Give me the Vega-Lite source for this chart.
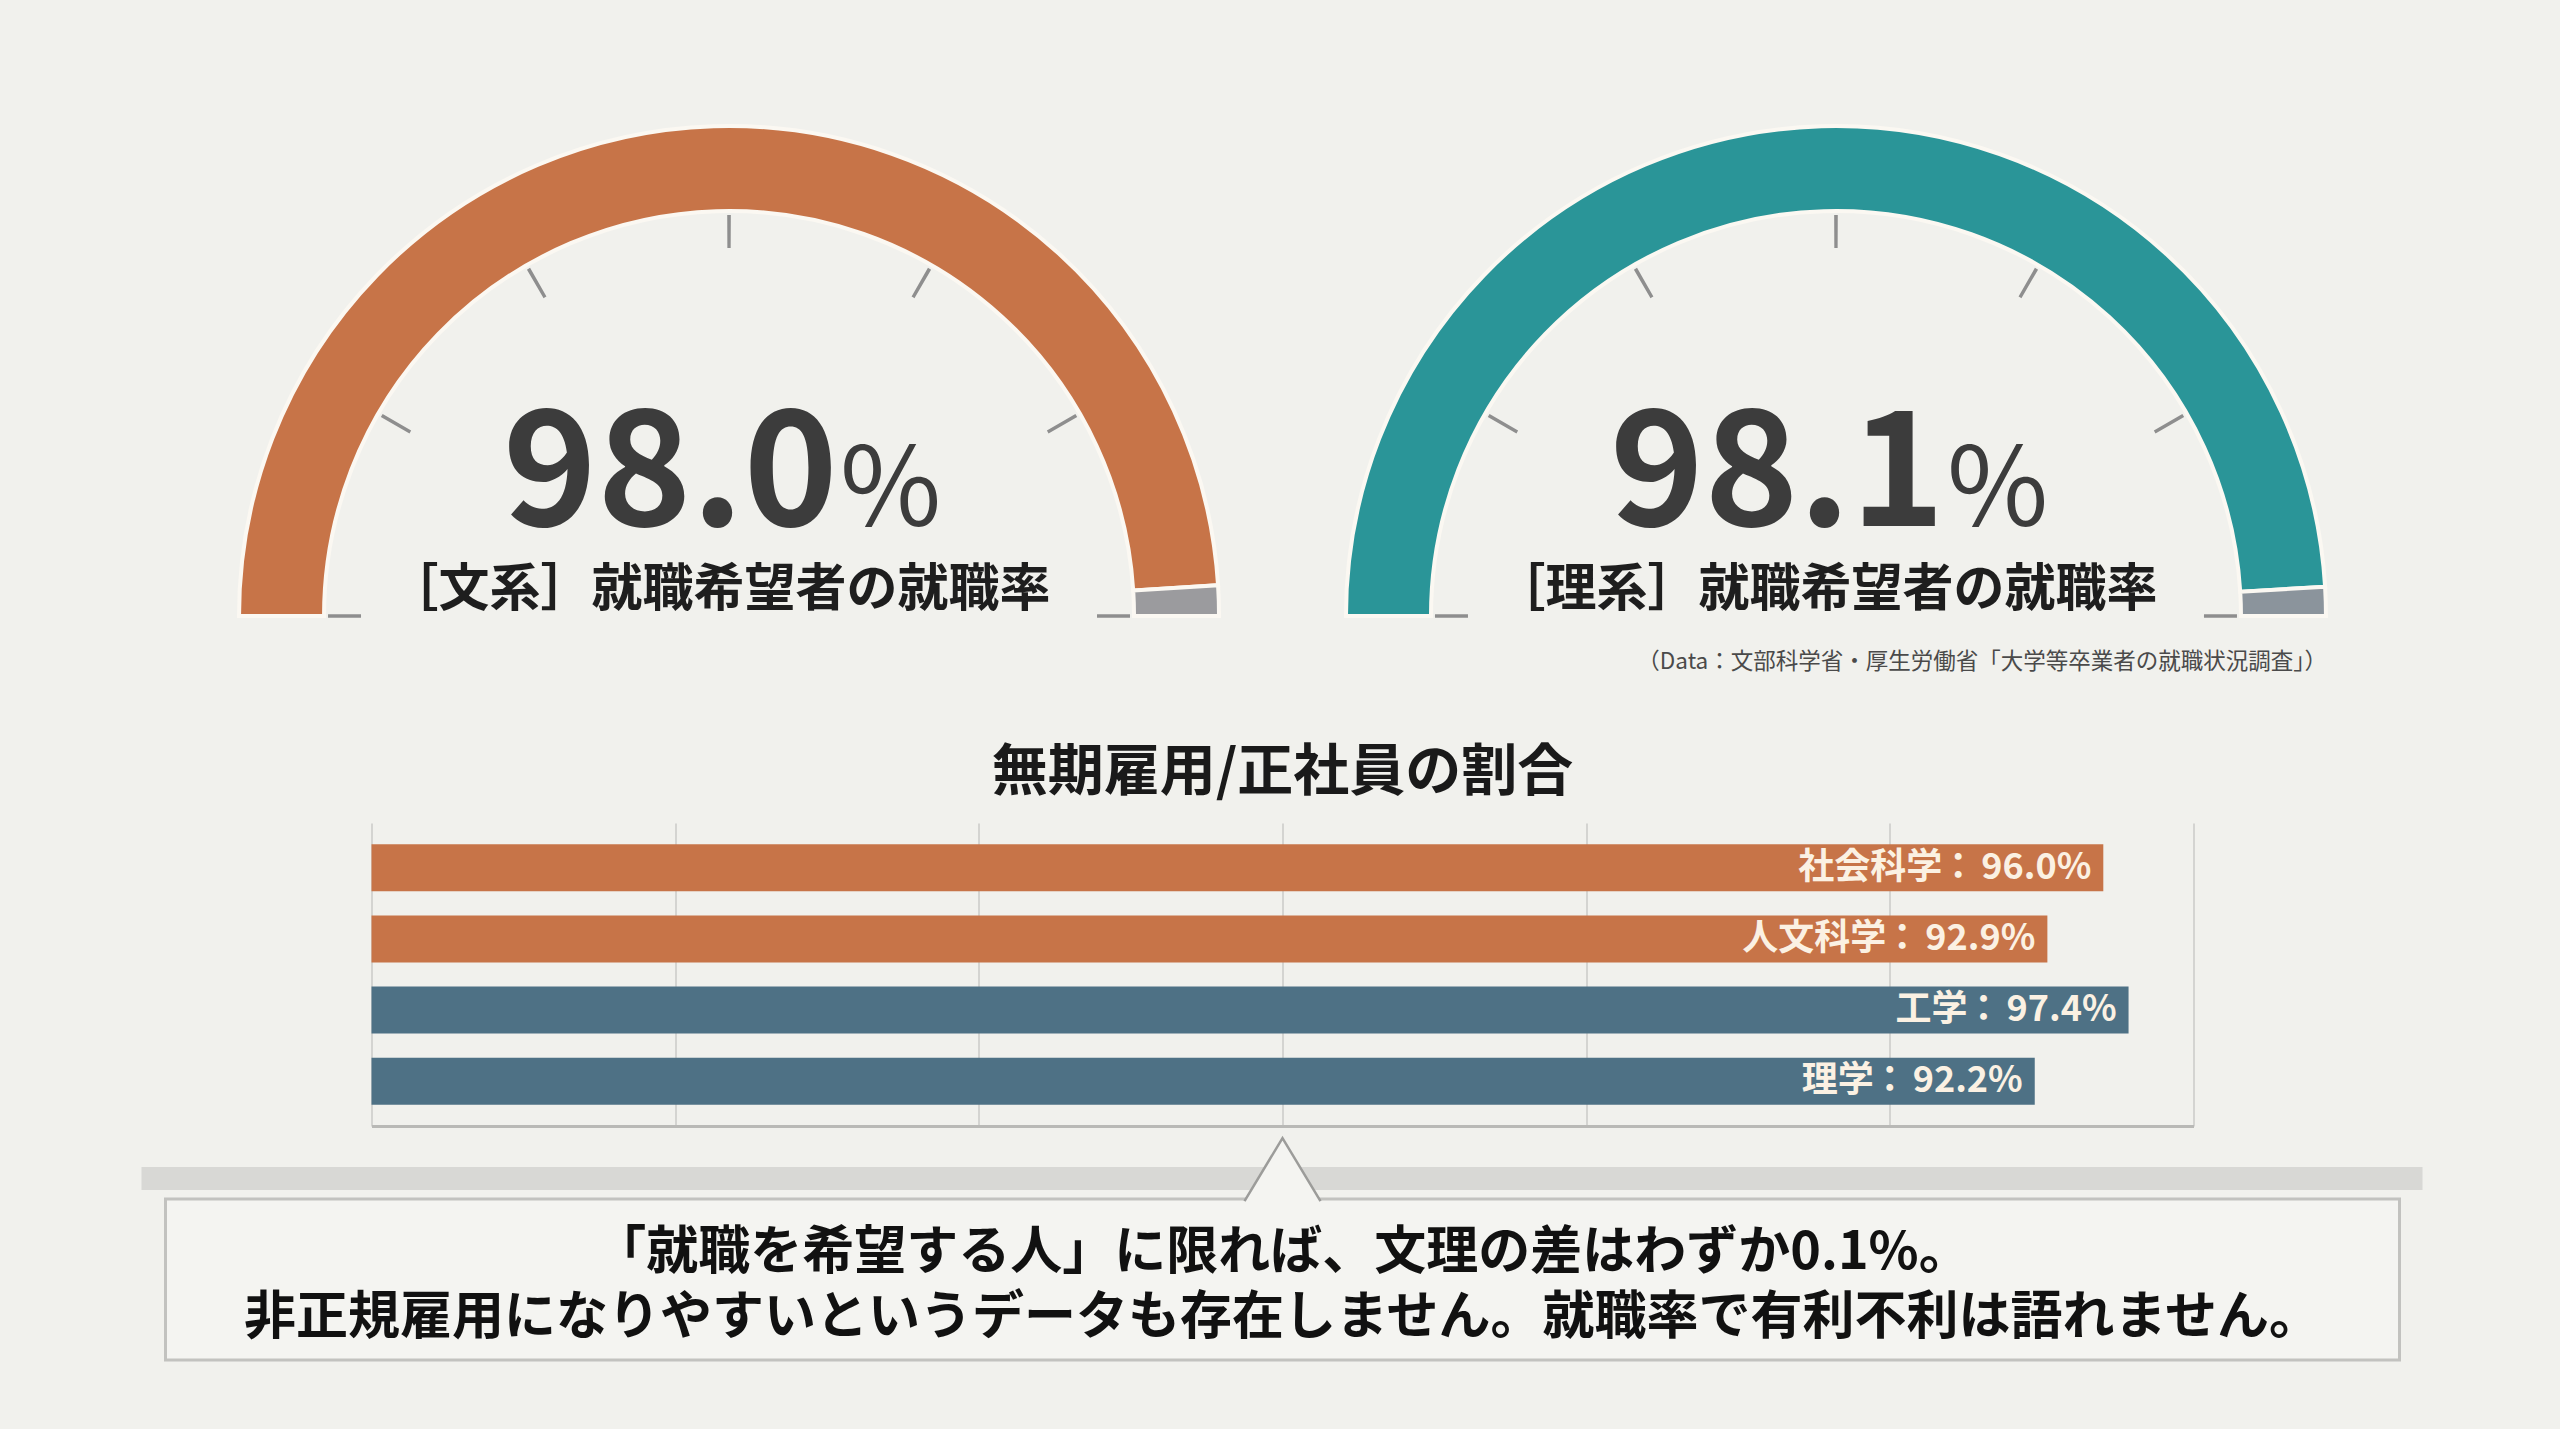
{
  "$schema": "https://vega.github.io/schema/vega-lite/v6.json",
  "background": "#f1f1ed",
  "padding": {"left": 139.5, "top": 116, "right": 200, "bottom": 100},
  "bounds": "flush",
  "center": true,
  "spacing": 73,
  "resolve": {"scale": {"color": "independent", "x": "independent", "y": "independent"}},
  "config": {
    "view": {"stroke": null},
    "font": "Noto Sans CJK JP"
  },
  "datasets": {
    "gauge": [
      {"group": "文系", "part": "就職", "value": 98.0, "label": "［文系］就職希望者の就職率"},
      {"group": "文系", "part": "その他", "value": 2.0, "label": "［文系］就職希望者の就職率"},
      {"group": "理系", "part": "就職", "value": 98.1, "label": "［理系］就職希望者の就職率"},
      {"group": "理系", "part": "その他", "value": 1.9, "label": "［理系］就職希望者の就職率"}
    ],
    "ticks": [
      {"pct": 0}, {"pct": 16.667}, {"pct": 33.333}, {"pct": 50},
      {"pct": 66.667}, {"pct": 83.333}, {"pct": 100}
    ],
    "bars": [
      {"field": "社会科学", "type": "文系", "rate": 0.960},
      {"field": "人文科学", "type": "文系", "rate": 0.929},
      {"field": "工学", "type": "理系", "rate": 0.974},
      {"field": "理学", "type": "理系", "rate": 0.922}
    ],
    "notes": [
      {"text": "「就職を希望する人」に限れば、文理の差はわずか0.1%。\n非正規雇用になりやすいというデータも存在しません。就職率で有利不利は語れません。"}
    ],
    "source": [
      {"text": "（Data：文部科学省・厚生労働省「大学等卒業者の就職状況調査」）"}
    ]
  },
  "vconcat": [
    {
      "width": 2157,
      "height": 634,
      "resolve": {"scale": {"color": "independent"}},
      "layer": [
        {
          "data": {"name": "gauge"},
          "transform": [{"filter": "datum.group === '文系'"}],
          "mark": {"type": "arc", "radius": 490, "innerRadius": 405, "y": 500, "stroke": "#fbf8f2", "strokeWidth": 4},
          "encoding": {
            "x": {"field": "group", "type": "nominal", "axis": null, "scale": {"type": "point", "domain": ["文系", "理系"], "padding": 0.4743}},
            "theta": {"field": "value", "type": "quantitative", "stack": true, "scale": {"domain": [0, 100], "range": [-1.5708, 1.5708]}},
            "order": {"field": "part", "sort": "descending"},
            "color": {"field": "part", "type": "nominal", "legend": null, "scale": {"domain": ["就職", "その他"], "range": ["#c77448", "#9b9b9e"]}}
          }
        },
        {
          "data": {"name": "gauge"},
          "transform": [{"filter": "datum.group === '理系'"}],
          "mark": {"type": "arc", "radius": 490, "innerRadius": 405, "y": 500, "stroke": "#fbf8f2", "strokeWidth": 4},
          "encoding": {
            "x": {"field": "group", "type": "nominal", "axis": null, "scale": {"type": "point", "domain": ["文系", "理系"], "padding": 0.4743}},
            "theta": {"field": "value", "type": "quantitative", "stack": true, "scale": {"domain": [0, 100], "range": [-1.5708, 1.5708]}},
            "order": {"field": "part", "sort": "descending"},
            "color": {"field": "part", "type": "nominal", "legend": null, "scale": {"domain": ["就職", "その他"], "range": ["#2a9598", "#8b949c"]}}
          }
        },
        {
          "data": {"name": "ticks"},
          "mark": {"type": "arc", "radius": 401, "innerRadius": 368, "y": 500, "thetaOffset": -0.0045, "theta2Offset": 0.0045, "color": "#8e8e8e"},
          "encoding": {
            "x": {"datum": "文系", "type": "nominal", "axis": null, "scale": {"type": "point", "domain": ["文系", "理系"], "padding": 0.4743}},
            "theta": {"field": "pct", "type": "quantitative", "stack": false, "scale": {"domain": [0, 100], "range": [-1.5708, 1.5708]}},
            "theta2": {"field": "pct"}
          }
        },
        {
          "data": {"name": "ticks"},
          "mark": {"type": "arc", "radius": 401, "innerRadius": 368, "y": 500, "thetaOffset": -0.0045, "theta2Offset": 0.0045, "color": "#8e8e8e"},
          "encoding": {
            "x": {"datum": "理系", "type": "nominal", "axis": null, "scale": {"type": "point", "domain": ["文系", "理系"], "padding": 0.4743}},
            "theta": {"field": "pct", "type": "quantitative", "stack": false, "scale": {"domain": [0, 100], "range": [-1.5708, 1.5708]}},
            "theta2": {"field": "pct"}
          }
        },
        {
          "data": {"name": "gauge"},
          "transform": [{"filter": "datum.part === '就職'"}],
          "mark": {"type": "text", "y": 500, "dy": -90, "dx": 109, "align": "right", "baseline": "alphabetic", "fontSize": 160, "fontWeight": "bold", "color": "#3c3c3c"},
          "encoding": {
            "x": {"field": "group", "type": "nominal", "axis": null, "scale": {"type": "point", "domain": ["文系", "理系"], "padding": 0.4743}},
            "text": {"field": "value", "type": "quantitative", "format": ".1f"}
          }
        },
        {
          "data": {"name": "gauge"},
          "transform": [{"filter": "datum.part === '就職'"}],
          "mark": {"type": "text", "text": "%", "y": 500, "dy": -90, "dx": 111, "align": "left", "baseline": "alphabetic", "fontSize": 110, "fontWeight": "normal", "color": "#3c3c3c"},
          "encoding": {
            "x": {"field": "group", "type": "nominal", "axis": null, "scale": {"type": "point", "domain": ["文系", "理系"], "padding": 0.4743}}
          }
        },
        {
          "data": {"name": "gauge"},
          "transform": [{"filter": "datum.part === '就職'"}],
          "mark": {"type": "text", "y": 500, "dy": -25, "dx": -10, "align": "center", "baseline": "middle", "fontSize": 51, "fontWeight": "bold", "color": "#1e1e1e"},
          "encoding": {
            "x": {"field": "group", "type": "nominal", "axis": null, "scale": {"type": "point", "domain": ["文系", "理系"], "padding": 0.4743}},
            "text": {"field": "label", "type": "nominal"}
          }
        },
        {
          "data": {"name": "source"},
          "mark": {"type": "text", "x": "width", "dx": -34, "y": 500, "dy": 46, "align": "right", "baseline": "middle", "fontSize": 22.5, "color": "#4a4a4a"},
          "encoding": {"text": {"field": "text", "type": "nominal"}}
        }
      ]
    },
    {
      "width": 1822,
      "height": 303,
      "title": {"text": "無期雇用/正社員の割合", "fontSize": 56, "fontWeight": "bold", "color": "#1a1a1a", "anchor": "middle", "offset": 21},
      "data": {"name": "bars"},
      "encoding": {
        "y": {"field": "field", "type": "nominal", "sort": null, "axis": null, "scale": {"paddingInner": 0.34, "paddingOuter": 0.3}},
        "x": {
          "field": "rate", "type": "quantitative",
          "scale": {"domain": [0, 1.01], "nice": false},
          "axis": {"values": [0, 0.16833, 0.33667, 0.505, 0.67333, 0.84167, 1.01], "labels": false, "ticks": false, "title": null, "grid": true, "gridColor": "#d4d4d1", "gridWidth": 2, "domainColor": "#b9b9b6", "domainWidth": 3}
        }
      },
      "layer": [
        {
          "mark": {"type": "bar"},
          "encoding": {
            "color": {"field": "type", "type": "nominal", "legend": null, "scale": {"domain": ["文系", "理系"], "range": ["#c77448", "#4e7185"]}}
          }
        },
        {
          "mark": {"type": "text", "align": "right", "baseline": "middle", "dx": -12, "fontSize": 36, "fontWeight": "bold", "color": "#fbf1e3"},
          "encoding": {"text": {"field": "rate", "type": "quantitative", "format": ".1%"}}
        },
        {
          "mark": {"type": "text", "text": "：", "align": "right", "baseline": "middle", "dx": -127, "fontSize": 36, "fontWeight": "bold", "color": "#fbf1e3"},
          "encoding": {}
        },
        {
          "mark": {"type": "text", "align": "right", "baseline": "middle", "dx": -161, "fontSize": 36, "fontWeight": "bold", "color": "#fbf1e3"},
          "encoding": {"text": {"field": "field", "type": "nominal"}}
        }
      ]
    },
    {
      "width": 2234,
      "height": 161,
      "view": {"fill": "#f4f4f1", "stroke": "#c2c2bf", "strokeWidth": 3},
      "layer": [
        {
          "data": {"values": [{}]},
          "mark": {"type": "rect", "x": -24, "x2": 2257, "y": -32, "y2": -9, "color": "#d8d8d5"},
          "encoding": {}
        },
        {
          "data": {"values": [{}]},
          "mark": {"type": "point", "shape": "M -1 0.86 L 0 -0.8 L 1 0.86", "size": 5776, "y": -30.5, "filled": true, "fill": "#f4f4f1", "stroke": "#9c9c9a", "strokeWidth": 2.5, "opacity": 1},
          "encoding": {}
        },
        {
          "data": {"name": "notes"},
          "mark": {"type": "text", "align": "center", "baseline": "middle", "dy": -27, "lineBreak": "\n", "lineHeight": 65, "fontSize": 52, "fontWeight": "bold", "color": "#111111"},
          "encoding": {
            "text": {"field": "text", "type": "nominal"}
          }
        }
      ]
    }
  ]
}
